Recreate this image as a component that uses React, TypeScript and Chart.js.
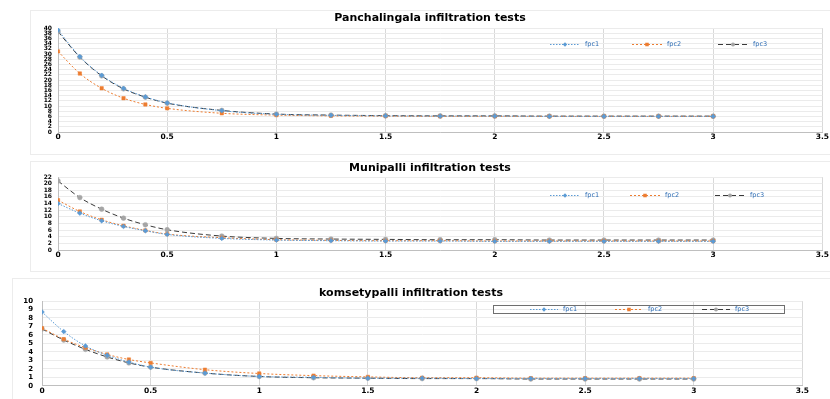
import React, { useEffect, useRef } from 'react';
import { Chart, registerables } from 'chart.js';

Chart.register(...registerables);

// ---------- DATA ----------
const timeHours = [0, 0.1, 0.2, 0.3, 0.4, 0.5, 0.75, 1, 1.25, 1.5, 1.75, 2, 2.25, 2.5, 2.75, 3];
const seriesNames = ['fpc1', 'fpc2', 'fpc3'];

const panchTitle = 'Panchalingala infiltration tests';
const panchFpc1 = [39.2, 29, 21.8, 16.8, 13.5, 11.2, 8.2, 6.8, 6.4, 6.2, 6.1, 6.1, 6.0, 6.0, 6.0, 6.0];
const panchFpc2 = [31, 22.5, 16.8, 13, 10.6, 9.1, 7.2, 6.5, 6.2, 6.1, 6.0, 6.0, 6.0, 6.0, 6.0, 6.0];
const panchFpc3 = [38.6, 28.8, 21.6, 16.6, 13.4, 11.1, 8.3, 6.9, 6.5, 6.3, 6.2, 6.2, 6.1, 6.1, 6.1, 6.1];

const muniTitle = 'Munipalli infiltration tests';
const muniFpc1 = [14, 11.1, 8.8, 7.1, 5.8, 4.7, 3.5, 3.0, 2.8, 2.7, 2.7, 2.6, 2.6, 2.6, 2.6, 2.6];
const muniFpc2 = [15, 11.6, 9.1, 7.3, 5.9, 4.8, 3.7, 3.1, 2.9, 2.8, 2.8, 2.7, 2.7, 2.7, 2.7, 2.7];
const muniFpc3 = [20.8, 15.8, 12.3, 9.6, 7.6, 6.1, 4.2, 3.5, 3.3, 3.2, 3.1, 3.1, 3.0, 3.0, 3.0, 3.0];

const komTitle = 'komsetypalli infiltration tests';
const komFpc1 = [8.7, 6.4, 4.7, 3.6, 2.8, 2.2, 1.5, 1.1, 1.0, 0.9, 0.9, 0.85, 0.85, 0.85, 0.85, 0.85];
const komFpc2 = [6.8, 5.5, 4.5, 3.7, 3.1, 2.7, 1.9, 1.45, 1.2, 1.05, 0.95, 0.95, 0.9, 0.9, 0.9, 0.9];
const komFpc3 = [6.7, 5.4, 4.3, 3.4, 2.7, 2.2, 1.5, 1.1, 0.95, 0.9, 0.85, 0.85, 0.8, 0.8, 0.8, 0.8];

const xMax = 3.5;
const xStep = 0.5;

// ---------- STYLES ----------
const FONT = "'DejaVu Sans', 'Liberation Sans', sans-serif";
const seriesStyles = [
  { line: '#5B9BD5', marker: '#5B9BD5', dash: [1.5, 1.5], point: 'rectRot' },
  { line: '#ED7D31', marker: '#ED7D31', dash: [2, 2], point: 'rect' },
  { line: '#3a3a3a', marker: '#A5A5A5', dash: [5, 3], point: 'circle' },
];

function drawMarker(ctx: CanvasRenderingContext2D, style: string, x: number, y: number, r: number, color: string) {
  ctx.save();
  ctx.setLineDash([]);
  ctx.fillStyle = color;
  ctx.beginPath();
  if (style === 'rectRot') {
    ctx.moveTo(x, y - r);
    ctx.lineTo(x + r, y);
    ctx.lineTo(x, y + r);
    ctx.lineTo(x - r, y);
    ctx.closePath();
  } else if (style === 'rect') {
    ctx.rect(x - r * 0.8, y - r * 0.8, r * 1.6, r * 1.6);
  } else {
    ctx.arc(x, y, r * 0.9, 0, Math.PI * 2);
  }
  ctx.fill();
  ctx.restore();
}

const customLegend = {
  id: 'customLegend',
  afterDraw(chart: any, _args: any, opts: any) {
    if (!opts || !opts.xs) return;
    const ctx: CanvasRenderingContext2D = chart.ctx;
    ctx.save();
    if (opts.box) {
      const b = opts.box;
      ctx.strokeStyle = '#6f6f6f';
      ctx.lineWidth = 1;
      ctx.setLineDash([]);
      ctx.strokeRect(b.x1 + 0.5, b.y1 + 0.5, b.x2 - b.x1, b.y2 - b.y1);
    }
    chart.data.datasets.forEach((ds: any, i: number) => {
      const st = seriesStyles[i];
      const x0 = opts.xs[i];
      const y = opts.y;
      const len = opts.lineLen;
      ctx.strokeStyle = st.line;
      ctx.lineWidth = 1;
      ctx.setLineDash(st.dash);
      ctx.beginPath();
      ctx.moveTo(x0, y + 0.5);
      ctx.lineTo(x0 + len, y + 0.5);
      ctx.stroke();
      drawMarker(ctx, st.point, x0 + len / 2, y + 0.5, 2.2, st.marker);
      ctx.setLineDash([]);
      ctx.fillStyle = '#2F6EB5';
      ctx.font = `6.5px ${FONT}`;
      ctx.textBaseline = 'middle';
      ctx.textAlign = 'left';
      ctx.fillText(ds.label, x0 + len + 5, y + 0.5);
    });
    ctx.restore();
  },
};

type Spec = {
  title: string;
  series: number[][];
  yMax: number;
  yStep: number;
  width: number;
  height: number;
  yAxisWidth: number;
  xAxisHeight: number;
  titlePad: { top: number; bottom: number };
  yTickPad: number;
  yFont: number;
  legend: any;
};

function buildConfig(spec: Spec): any {
  return {
    type: 'line',
    data: {
      datasets: spec.series.map((vals, i) => {
        const st = seriesStyles[i];
        return {
          label: seriesNames[i],
          data: timeHours.map((x, k) => ({ x, y: vals[k] })),
          borderColor: st.line,
          backgroundColor: st.marker,
          borderWidth: 1,
          borderDash: st.dash,
          pointStyle: st.point,
          pointRadius: 2.4,
          pointBackgroundColor: st.marker,
          pointBorderColor: st.marker,
          pointBorderWidth: 0.5,
          cubicInterpolationMode: 'monotone',
          fill: false,
        };
      }),
    },
    options: {
      responsive: false,
      animation: false,
      devicePixelRatio: 1,
      layout: { padding: { left: 0, right: 0, top: 0, bottom: 0 } },
      plugins: {
        legend: { display: false },
        tooltip: { enabled: false },
        title: {
          display: true,
          text: spec.title,
          color: '#000',
          font: { family: FONT, size: 11, weight: 'bold', lineHeight: 1.2 },
          padding: spec.titlePad,
        },
        customLegend: spec.legend,
      },
      scales: {
        x: {
          type: 'linear',
          min: 0,
          max: xMax,
          afterFit: (s: any) => { s.height = spec.xAxisHeight; },
          ticks: {
            stepSize: xStep,
            color: '#000',
            font: { family: FONT, size: 7.5, weight: 'bold' },
            padding: 1,
            maxRotation: 0,
            autoSkip: false,
            callback: (v: any) => String(Number(v)),
          },
          grid: { color: '#d9d9d9', drawTicks: false, lineWidth: 1 },
          border: { color: '#bfbfbf' },
        },
        y: {
          min: 0,
          max: spec.yMax,
          afterFit: (s: any) => { s.width = spec.yAxisWidth; },
          ticks: {
            stepSize: spec.yStep,
            color: '#000',
            font: { family: FONT, size: spec.yFont, weight: 'bold' },
            padding: spec.yTickPad,
            autoSkip: false,
          },
          grid: { color: '#ebebeb', drawTicks: false, lineWidth: 1 },
          border: { color: '#bfbfbf' },
        },
      },
    },
    plugins: [customLegend],
  };
}

const specs: { spec: Spec; left: number; top: number }[] = [
  {
    left: 30,
    top: 10,
    spec: {
      title: panchTitle,
      series: [panchFpc1, panchFpc2, panchFpc3],
      yMax: 40,
      yStep: 2,
      width: 800,
      height: 143,
      yAxisWidth: 28,
      xAxisHeight: 21,
      titlePad: { top: 1.4, bottom: 3.4 },
      yTickPad: 6,
      yFont: 6,
      legend: { xs: [520, 602, 688], y: 34, lineLen: 30 },
    },
  },
  {
    left: 30,
    top: 161,
    spec: {
      title: muniTitle,
      series: [muniFpc1, muniFpc2, muniFpc3],
      yMax: 22,
      yStep: 2,
      width: 800,
      height: 100,
      yAxisWidth: 28,
      xAxisHeight: 11,
      titlePad: { top: 0.4, bottom: 2.4 },
      yTickPad: 6,
      yFont: 6,
      legend: { xs: [520, 600, 685], y: 34, lineLen: 30 },
    },
  },
  {
    left: 12,
    top: 278,
    spec: {
      title: komTitle,
      series: [komFpc1, komFpc2, komFpc3],
      yMax: 10,
      yStep: 1,
      width: 798,
      height: 121,
      yAxisWidth: 30,
      xAxisHeight: 9,
      titlePad: { top: 8.4, bottom: 1.4 },
      yTickPad: 9,
      yFont: 7,
      legend: { xs: [518, 603, 690], y: 31, lineLen: 28, box: { x1: 481, y1: 27, x2: 772, y2: 35 } },
    },
  },
];

function ChartCanvas({ spec }: { spec: Spec }) {
  const ref = useRef<HTMLCanvasElement | null>(null);
  useEffect(() => {
    if (!ref.current) return;
    const chart = new Chart(ref.current, buildConfig(spec));
    return () => chart.destroy();
  }, [spec]);
  return (
    <canvas
      ref={ref}
      width={spec.width}
      height={spec.height}
      style={{ width: spec.width, height: spec.height, display: 'block' }}
    />
  );
}

export default function App() {
  return (
    <div
      style={{
        position: 'absolute',
        left: 0,
        top: 0,
        width: 830,
        height: 399,
        overflow: 'hidden',
        background: '#fff',
      }}
    >
      <div style={{ position: 'absolute', left: 30, top: 10, width: 830, height: 143, border: '1px solid #ececec' }} />
      <div style={{ position: 'absolute', left: 30, top: 161, width: 830, height: 109, border: '1px solid #ececec' }} />
      <div style={{ position: 'absolute', left: 12, top: 278, width: 830, height: 140, border: '1px solid #ececec' }} />
      {specs.map((s, i) => (
        <div key={i} style={{ position: 'absolute', left: s.left, top: s.top }}>
          <ChartCanvas spec={s.spec} />
        </div>
      ))}
    </div>
  );
}
